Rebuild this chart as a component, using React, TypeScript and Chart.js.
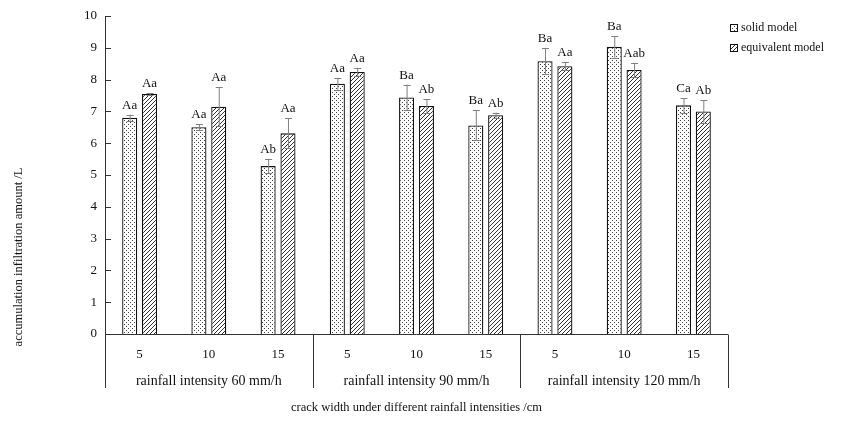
import React, { useEffect, useRef } from 'react';
import { Chart, registerables } from 'chart.js';

Chart.register(...registerables);

const categories = ['5', '10', '15', '5', '10', '15', '5', '10', '15'];
const groupLabels = ['rainfall intensity 60 mm/h', 'rainfall intensity 90 mm/h', 'rainfall intensity 120 mm/h'];
const seriesNames = ['solid model', 'equivalent model'];
const solidValues = [6.8, 6.5, 5.28, 7.87, 7.44, 6.56, 8.58, 9.03, 7.19];
const solidErrors = [0.1, 0.1, 0.23, 0.19, 0.4, 0.47, 0.4, 0.34, 0.23];
const solidLabels = ['Aa', 'Aa', 'Ab', 'Aa', 'Ba', 'Ba', 'Ba', 'Ba', 'Ca'];
const equivValues = [7.55, 7.15, 6.31, 8.24, 7.17, 6.88, 8.42, 8.3, 7.0];
const equivErrors = [0.03, 0.62, 0.47, 0.13, 0.21, 0.08, 0.13, 0.22, 0.35];
const equivLabels = ['Aa', 'Aa', 'Aa', 'Aa', 'Ab', 'Ab', 'Aa', 'Aab', 'Ab'];
const yMin = 0;
const yMax = 10;
const yStep = 1;
const xTitle = 'crack width under different rainfall intensities /cm';
const yTitle = 'accumulation infiltration amount /L';

const SERIF = '"Liberation Serif", "Times New Roman", serif';

function makeDotPattern(ctx: CanvasRenderingContext2D): CanvasPattern | string {
  const c = document.createElement('canvas');
  c.width = 4;
  c.height = 4;
  const g = c.getContext('2d');
  if (!g) return '#fff';
  g.fillStyle = '#ffffff';
  g.fillRect(0, 0, 4, 4);
  g.fillStyle = '#444444';
  g.fillRect(0, 0, 1, 1);
  g.fillRect(2, 2, 1, 1);
  return ctx.createPattern(c, 'repeat') || '#fff';
}

function makeHatchPattern(ctx: CanvasRenderingContext2D): CanvasPattern | string {
  const c = document.createElement('canvas');
  c.width = 4;
  c.height = 4;
  const g = c.getContext('2d');
  if (!g) return '#fff';
  g.fillStyle = '#ffffff';
  g.fillRect(0, 0, 4, 4);
  g.strokeStyle = '#333333';
  g.lineWidth = 1;
  g.beginPath();
  g.moveTo(-1, 5);
  g.lineTo(5, -1);
  g.moveTo(-1, 1);
  g.lineTo(1, -1);
  g.moveTo(3, 5);
  g.lineTo(5, 3);
  g.stroke();
  return ctx.createPattern(c, 'repeat') || '#fff';
}

export default function App() {
  const ref = useRef<HTMLCanvasElement | null>(null);

  useEffect(() => {
    const canvas = ref.current;
    if (!canvas) return;
    const ctx0 = canvas.getContext('2d');
    if (!ctx0) return;
    const dotPat = makeDotPattern(ctx0);
    const hatchPat = makeHatchPattern(ctx0);
    const errs = [solidErrors, equivErrors];
    const labs = [solidLabels, equivLabels];
    const pats = [dotPat, hatchPat];

    const decor = {
      id: 'decor',
      afterDatasetsDraw(chart: any) {
        const ctx: CanvasRenderingContext2D = chart.ctx;
        const y = chart.scales.y;
        ctx.save();
        chart.data.datasets.forEach((ds: any, di: number) => {
          const meta = chart.getDatasetMeta(di);
          meta.data.forEach((el: any, i: number) => {
            const v = ds.data[i] as number;
            const e = errs[di][i];
            const yt = y.getPixelForValue(v + e);
            const yb = y.getPixelForValue(v - e);
            const x = el.x;
            ctx.strokeStyle = '#808080';
            ctx.lineWidth = 1;
            ctx.beginPath();
            ctx.moveTo(x + 0.5, yt);
            ctx.lineTo(x + 0.5, yb);
            ctx.moveTo(x - 3, Math.round(yt) + 0.5);
            ctx.lineTo(x + 4, Math.round(yt) + 0.5);
            ctx.moveTo(x - 3, Math.round(yb) + 0.5);
            ctx.lineTo(x + 4, Math.round(yb) + 0.5);
            ctx.stroke();
            ctx.fillStyle = '#111';
            ctx.font = `13px ${SERIF}`;
            ctx.textAlign = 'center';
            ctx.textBaseline = 'alphabetic';
            ctx.fillText(labs[di][i], x, yt - 6);
          });
        });
        ctx.restore();
      },
      afterDraw(chart: any) {
        const ctx: CanvasRenderingContext2D = chart.ctx;
        const { left, right, top, bottom } = chart.chartArea;
        const xs = chart.scales.x;
        const ys = chart.scales.y;
        const lower = bottom + 54;
        ctx.save();
        ctx.strokeStyle = '#333';
        ctx.lineWidth = 1;
        ctx.beginPath();
        const L = Math.round(left) + 0.5;
        const B = Math.round(bottom) + 0.5;
        ctx.moveTo(L, top);
        ctx.lineTo(L, lower);
        ctx.moveTo(left, B);
        ctx.lineTo(right, B);
        ys.ticks.forEach((t: any) => {
          const py = Math.round(ys.getPixelForValue(t.value)) + 0.5;
          ctx.moveTo(left, py);
          ctx.lineTo(left + 6, py);
        });
        const sepIdx = [3, 6];
        sepIdx.forEach((k) => {
          const px = Math.round((xs.getPixelForValue(k - 1) + xs.getPixelForValue(k)) / 2) + 0.5;
          ctx.moveTo(px, B);
          ctx.lineTo(px, lower);
        });
        const R = Math.round(right) + 0.5;
        ctx.moveTo(R, B);
        ctx.lineTo(R, lower);
        ctx.stroke();

        ctx.fillStyle = '#111';
        ctx.font = `14px ${SERIF}`;
        ctx.textAlign = 'center';
        ctx.textBaseline = 'middle';
        groupLabels.forEach((g, gi) => {
          const cx = (xs.getPixelForValue(gi * 3) + xs.getPixelForValue(gi * 3 + 2)) / 2;
          ctx.fillText(g, cx, bottom + 47);
        });

        ctx.font = `12.5px ${SERIF}`;
        ctx.fillText(xTitle, (left + right) / 2, 408);
        ctx.save();
        ctx.translate(19, 257);
        ctx.rotate(-Math.PI / 2);
        ctx.fillText(yTitle, 0, 0);
        ctx.restore();

        // legend
        ctx.font = `12px ${SERIF}`;
        ctx.textAlign = 'left';
        seriesNames.forEach((n, i) => {
          const ly = 28 + i * 20;
          ctx.fillStyle = pats[i] as any;
          ctx.fillRect(730, ly - 4, 8, 8);
          ctx.strokeStyle = '#111';
          ctx.strokeRect(730.5, ly - 3.5, 7, 7);
          ctx.fillStyle = '#111';
          ctx.fillText(n, 741, ly);
        });
        ctx.restore();
      },
    };

    const chart = new Chart(canvas, {
      type: 'bar',
      data: {
        labels: categories,
        datasets: [
          {
            label: seriesNames[0],
            data: solidValues,
            backgroundColor: dotPat as any,
            borderColor: '#111',
            borderWidth: 1.3,
            categoryPercentage: 0.573,
            barPercentage: 0.76,
          },
          {
            label: seriesNames[1],
            data: equivValues,
            backgroundColor: hatchPat as any,
            borderColor: '#111',
            borderWidth: 1.3,
            categoryPercentage: 0.573,
            barPercentage: 0.76,
          },
        ],
      },
      options: {
        responsive: false,
        animation: false,
        layout: { padding: { top: 16, right: 114, left: 0, bottom: 0 } },
        plugins: { legend: { display: false }, tooltip: { enabled: false } },
        scales: {
          x: {
            type: 'category',
            grid: { display: false, drawTicks: false },
            border: { display: false },
            ticks: { font: { family: SERIF, size: 13 }, color: '#111', padding: 13, maxRotation: 0 },
            afterFit: (s: any) => {
              s.height = 94;
            },
          },
          y: {
            min: yMin,
            max: yMax,
            grid: { display: false, drawTicks: false },
            border: { display: false },
            ticks: { stepSize: yStep, font: { family: SERIF, size: 13 }, color: '#111', padding: 8 },
            afterFit: (s: any) => {
              s.width = 105;
            },
          },
        },
      },
      plugins: [decor],
    });
    return () => chart.destroy();
  }, []);

  return (
    <div style={{ position: 'fixed', left: 0, top: 0, width: 842, height: 428, background: '#fff' }}>
      <canvas ref={ref} width={842} height={428} style={{ width: 842, height: 428 }} />
    </div>
  );
}
